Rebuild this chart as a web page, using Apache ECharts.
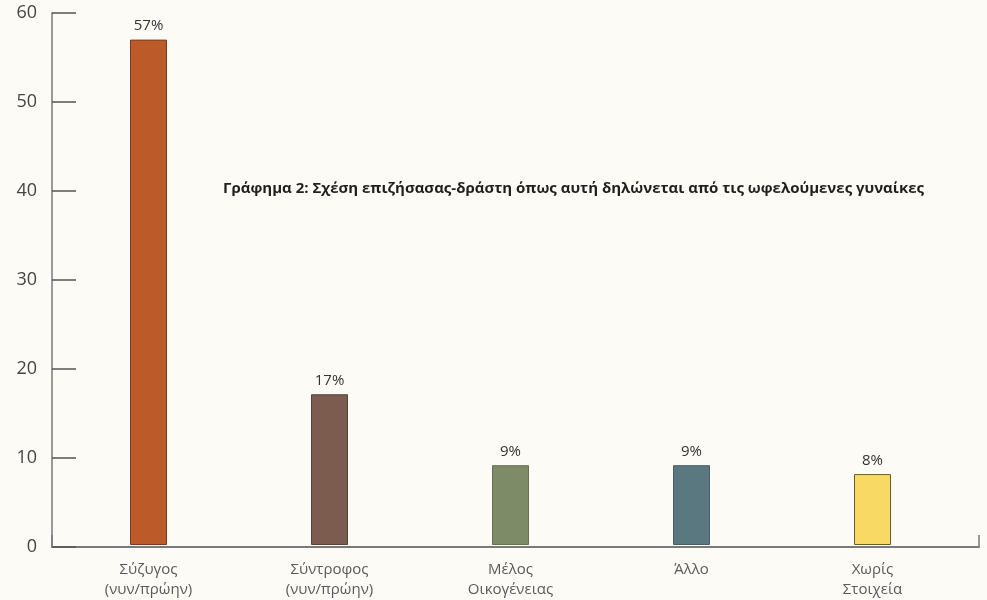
<!DOCTYPE html>
<html>
<head>
<meta charset="utf-8">
<script src="https://cdn.jsdelivr.net/npm/echarts@6/dist/echarts.min.js"></script>
<style>html,body{margin:0;padding:0;background:#FDFBF6;}#c{width:987px;height:600px;}</style>
</head>
<body>
<div id="c"></div>
<script>
const categories = ['Σύζυγος\n(νυν/πρώην)', 'Σύντροφος\n(νυν/πρώην)', 'Μέλος\nΟικογένειας', 'Άλλο', 'Χωρίς\nΣτοιχεία'];
const values = [57, 17, 9, 9, 8];
const barColors = ['#BC5A2A', '#7B5C4E', '#7E8B67', '#5A7880', '#F8D964'];
const borderColors = ['#7A3A22', '#5A4238', '#66704F', '#465E64', '#6E5E22'];
const yTicks = [0, 10, 20, 30, 40, 50, 60];
const title = 'Γράφημα 2: Σχέση επιζήσασας-δράστη όπως αυτή δηλώνεται από τις ωφελούμενες γυναίκες';

const chart = echarts.init(document.getElementById('c'));
chart.setOption({
  backgroundColor: '#FDFBF6',
  animation: false,
  title: {
    text: title,
    left: 218, top: 176,
    textStyle: { fontFamily: '"Liberation Sans Narrow", "Open Sans", sans-serif', fontWeight: 'bold', fontSize: 15, color: '#1f1f1f' }
  },
  grid: [
    { left: 52, right: 8, top: 13, bottom: 53 },
    { left: 58, right: 24, top: 13, bottom: 53 }
  ],
  xAxis: [
    { gridIndex: 0, type: 'value', min: 0, max: 1, interval: 1,
      axisLine: { show: true, lineStyle: { color: '#7a7a7a', width: 2 } },
      axisTick: { show: true, inside: true, length: 12, lineStyle: { color: '#7a7a7a', width: 1.5 } },
      axisLabel: { show: false }, splitLine: { show: false } },
    { gridIndex: 1, type: 'category', data: categories,
      axisLine: { show: false }, axisTick: { show: false },
      axisLabel: { color: '#5a5a5a', fontSize: 15, lineHeight: 20, margin: 15, fontFamily: '"Open Sans", sans-serif' } }
  ],
  yAxis: [
    { gridIndex: 0, type: 'value', min: yTicks[0], max: yTicks[yTicks.length - 1], interval: 10,
      axisLine: { show: true, lineStyle: { color: '#7a7a7a', width: 1.5 } },
      axisTick: { show: true, inside: true, length: 24, lineStyle: { color: '#555', width: 1.5 } },
      axisLabel: { color: '#444', fontSize: 18, margin: 15, fontFamily: '"Open Sans", sans-serif' },
      splitLine: { show: false } },
    { gridIndex: 1, type: 'value', min: 0, max: 60, interval: 10, show: false }
  ],
  series: [{
    type: 'bar', xAxisIndex: 1, yAxisIndex: 1,
    barWidth: 37,
    data: values.map((v, i) => ({ value: v, itemStyle: { color: barColors[i], borderColor: borderColors[i], borderWidth: 1 } })),
    label: { show: true, position: 'top', distance: 6, formatter: '{c}%', color: '#333', fontSize: 15, fontFamily: '"Open Sans", sans-serif' }
  }]
});
</script>
</body>
</html>
